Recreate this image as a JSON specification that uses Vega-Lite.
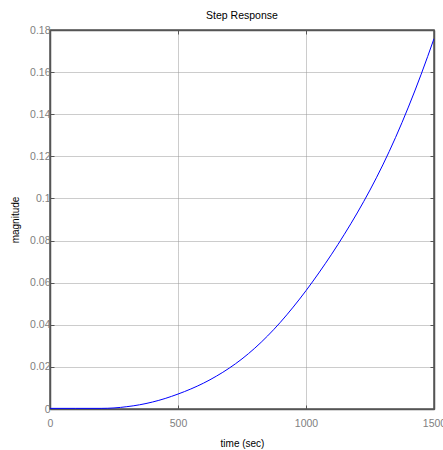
{
  "$schema": "https://vega.github.io/schema/vega-lite/v6.json",
  "width": 384,
  "height": 379,
  "autosize": {"type": "none"},
  "padding": {"left": 50, "top": 30, "right": 9, "bottom": 41},
  "background": "white",
  "title": {"text": "Step Response", "fontSize": 10.5, "font": "Liberation Sans", "fontWeight": "normal", "color": "black", "offset": 4},
  "config": {
    "view": {"stroke": "#555555", "strokeWidth": 1.5},
    "axis": {
      "labelFont": "Liberation Sans",
      "labelFontSize": 10.5,
      "labelColor": "#808080",
      "titleFont": "Liberation Sans",
      "titleFontSize": 10,
      "titleFontWeight": "normal",
      "titleColor": "black",
      "domainColor": "#555555",
      "domainWidth": 1.5,
      "tickColor": "#555555",
      "tickSize": -4,
      "gridColor": "#999999",
      "gridDash": [1, 1],
      "gridWidth": 1,
      "labelFlush": false,
      "labelOverlap": false,
      "labelBound": false
    }
  },
  "data": {"values": [
    {"t": 0, "y": 0.0003},
    {"t": 100, "y": 0.0003},
    {"t": 200, "y": 0.0003},
    {"t": 250, "y": 0.0005},
    {"t": 300, "y": 0.0011},
    {"t": 350, "y": 0.002},
    {"t": 400, "y": 0.0033},
    {"t": 450, "y": 0.005},
    {"t": 500, "y": 0.0071},
    {"t": 550, "y": 0.0095},
    {"t": 600, "y": 0.0123},
    {"t": 650, "y": 0.0156},
    {"t": 700, "y": 0.0194},
    {"t": 750, "y": 0.0238},
    {"t": 800, "y": 0.0289},
    {"t": 850, "y": 0.0347},
    {"t": 900, "y": 0.0412},
    {"t": 950, "y": 0.0484},
    {"t": 1000, "y": 0.0562},
    {"t": 1050, "y": 0.0646},
    {"t": 1100, "y": 0.0735},
    {"t": 1150, "y": 0.083},
    {"t": 1200, "y": 0.0931},
    {"t": 1250, "y": 0.104},
    {"t": 1300, "y": 0.1159},
    {"t": 1350, "y": 0.129},
    {"t": 1400, "y": 0.1434},
    {"t": 1450, "y": 0.159},
    {"t": 1500, "y": 0.1759}
  ]},
  "layer": [
    {
      "mark": {"type": "line", "color": "#0000ff", "strokeWidth": 1, "interpolate": "monotone", "clip": true},
      "encoding": {
        "x": {"field": "t", "type": "quantitative", "scale": {"domain": [0, 1500], "nice": false},
          "axis": {"orient": "bottom", "values": [0, 500, 1000, 1500], "format": "d", "title": "time (sec)", "labelPadding": 13, "titlePadding": 10}},
        "y": {"field": "y", "type": "quantitative", "scale": {"domain": [0, 0.18], "nice": false, "zero": false},
          "axis": {"orient": "left", "values": [0, 0.02, 0.04, 0.06, 0.08, 0.1, 0.12, 0.14, 0.16, 0.18], "format": "~g", "title": "magnitude", "labelPadding": 4, "titlePadding": 9}}
      }
    },
    {
      "mark": {"type": "line", "opacity": 0},
      "encoding": {
        "x": {"field": "t", "type": "quantitative", "scale": {"domain": [0, 1500], "nice": false},
          "axis": {"orient": "top", "values": [0, 500, 1000, 1500], "labels": false, "grid": false, "title": null}},
        "y": {"field": "y", "type": "quantitative", "scale": {"domain": [0, 0.18], "nice": false, "zero": false},
          "axis": {"orient": "right", "values": [0, 0.02, 0.04, 0.06, 0.08, 0.1, 0.12, 0.14, 0.16, 0.18], "labels": false, "grid": false, "title": null}}
      }
    }
  ],
  "resolve": {"axis": {"x": "independent", "y": "independent"}}
}
